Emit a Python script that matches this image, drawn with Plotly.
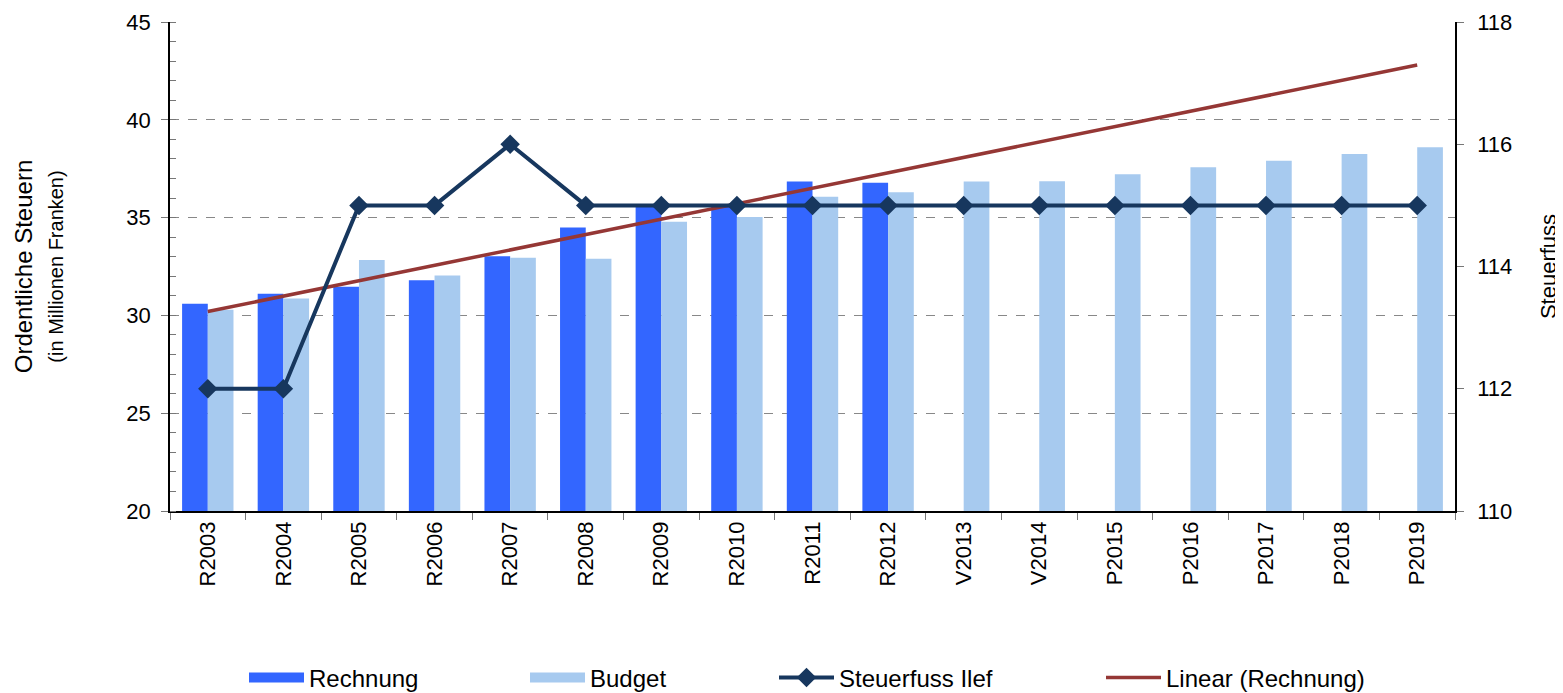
import numpy as np
import plotly.graph_objects as go

jahre = ['R2003', 'R2004', 'R2005', 'R2006', 'R2007', 'R2008', 'R2009', 'R2010', 'R2011',
         'R2012', 'V2013', 'V2014', 'P2015', 'P2016', 'P2017', 'P2018', 'P2019']
rechnung = [30.59, 31.11, 31.46, 31.80, 33.03, 34.50, 35.60, 35.70, 36.85, 36.78,
            None, None, None, None, None, None, None]
budget = [30.29, 30.86, 32.83, 32.04, 32.95, 32.90, 34.79, 35.03, 36.06, 36.30,
          36.85, 36.86, 37.22, 37.57, 37.91, 38.25, 38.60]
steuerfuss = [112, 112, 115, 115, 116, 115, 115, 115, 115, 115,
              115, 115, 115, 115, 115, 115, 115]

# linearer Trend (wie Excel) aus den Rechnungswerten
r_idx = [i for i, v in enumerate(rechnung) if v is not None]
r_val = [rechnung[i] for i in r_idx]
k, d = np.polyfit(r_idx, r_val, 1)
trend = [k * i + d for i in range(len(jahre))]

FONT = 'Liberation Sans, Arial, sans-serif'
C_RECH = '#3366FF'
C_BUDG = '#A7CAEF'

# die Seite hat 8px Rand -> Figur etwas kleiner
W, H = 1555, 685

fig = go.Figure()
fig.add_trace(go.Bar(x=jahre, y=rechnung, name='Rechnung', marker_color=C_RECH,
                     marker_line_width=0, showlegend=False))
fig.add_trace(go.Bar(x=jahre, y=budget, name='Budget', marker_color=C_BUDG,
                     marker_line_width=0, showlegend=False))
fig.add_trace(go.Scatter(x=jahre, y=steuerfuss, name='Steuerfuss Ilef', yaxis='y2',
                         mode='lines+markers', line=dict(color='#17375E', width=4),
                         marker=dict(symbol='diamond', size=15, color='#17375E'),
                         legend='legend3'))
fig.add_trace(go.Scatter(x=jahre, y=trend, name='Linear (Rechnung)', mode='lines',
                         line=dict(color='#953735', width=3.5), legend='legend4'))

# breite Legendenfelder für die Balken
fig.add_trace(go.Scatter(x=[jahre[0]], y=[None], name='Rechnung', mode='lines',
                         line=dict(color=C_RECH, width=20), legend='legend'))
fig.add_trace(go.Scatter(x=[jahre[0]], y=[None], name='Budget', mode='lines',
                         line=dict(color=C_BUDG, width=20), legend='legend2'))

leg = dict(orientation='h', yref='container', xref='container', y=15 / H,
           yanchor='middle', xanchor='left', font=dict(size=24, family=FONT, color='black'),
           bgcolor='rgba(0,0,0,0)', itemwidth=55)

fig.update_layout(
    width=W, height=H,
    margin=dict(l=162, r=108, t=14, b=182),
    plot_bgcolor='white', paper_bgcolor='white',
    font=dict(family=FONT, size=20, color='black'),
    barmode='group', bargap=0.32, bargroupgap=0,
    xaxis=dict(showline=True, linecolor='black', linewidth=1.5, ticks='outside',
               tickson='boundaries', tickcolor='#777777', ticklen=7, tickangle=-90,
               tickfont=dict(size=22), showgrid=False, automargin=False,
               categoryorder='array', categoryarray=jahre, range=[-0.5, len(jahre) - 0.5]),
    yaxis=dict(range=[20, 45], dtick=5, showline=True, linecolor='black', linewidth=1.5,
               ticks='outside', ticklen=7, tickcolor='#777777', tickfont=dict(size=22),
               ticklabelstandoff=6, automargin=False,
               showgrid=True, gridcolor='#888888', griddash='dash', gridwidth=1.2,
               minor=dict(dtick=1, ticks='inside', ticklen=6, tickcolor='#777777'),
               title=dict(text='Ordentliche Steuern<br><span style="font-size:20px">(in Millionen Franken)</span>',
                          font=dict(size=24), standoff=56)),
    yaxis2=dict(range=[110, 118], dtick=2, overlaying='y', side='right', showline=True,
                linecolor='black', linewidth=1.5, ticks='outside', ticklen=7,
                tickcolor='#777777', tickfont=dict(size=22), showgrid=False,
                ticklabelstandoff=9, automargin=False,
                title=dict(text='Steuerfuss', font=dict(size=22), standoff=29)),
    legend=dict(leg, x=236 / W),
    legend2=dict(leg, x=517 / W),
    legend3=dict(leg, x=766 / W),
    legend4=dict(leg, x=1093 / W),
    showlegend=True,
)

fig.write_html('out.html')
